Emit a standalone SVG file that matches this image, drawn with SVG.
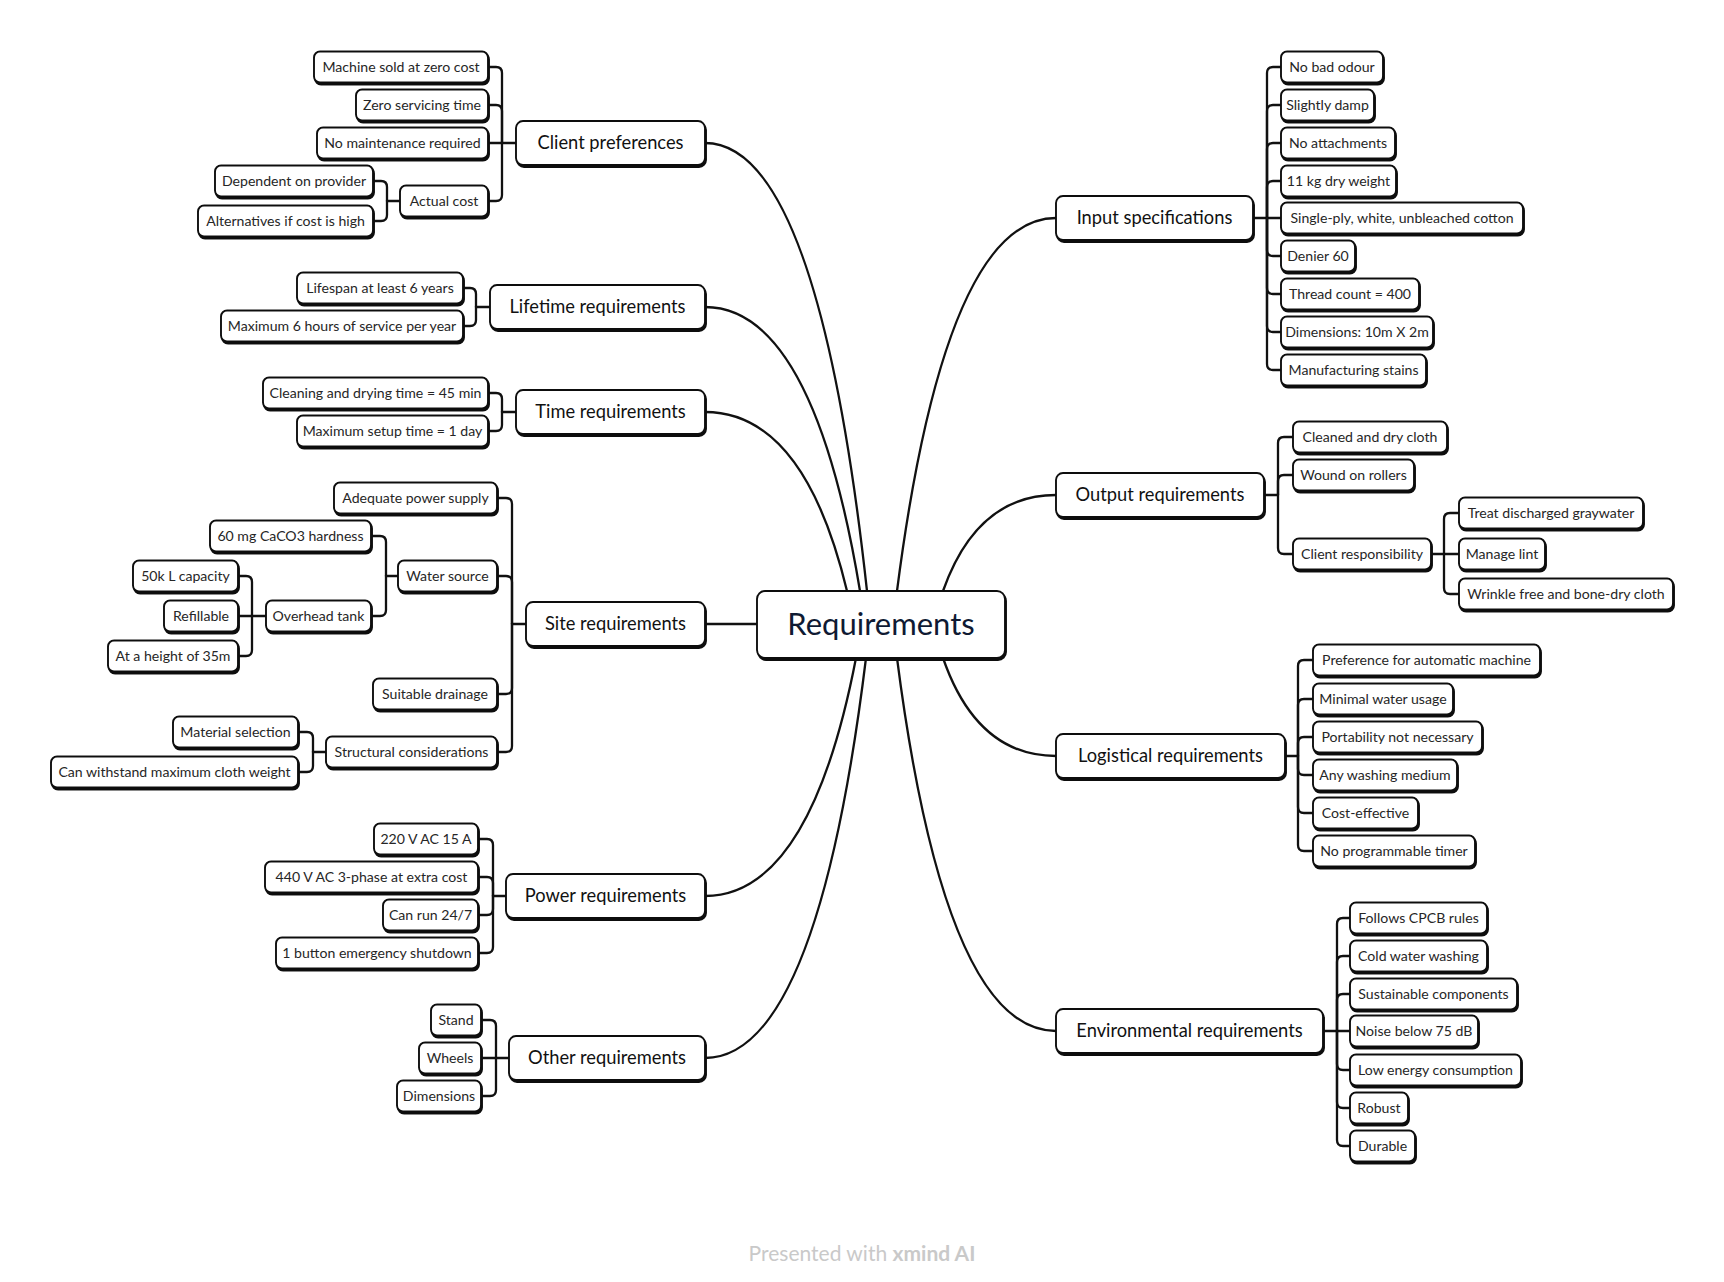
<svg xmlns="http://www.w3.org/2000/svg" width="1724" height="1282" viewBox="0 0 1724 1282">
  <defs>
    <!-- offset ink underneath each box gives the heavier bottom/right edge -->
    <filter id="ink" x="-5%" y="-10%" width="112%" height="130%">
      <feOffset in="SourceAlpha" dx="0.9" dy="1.8" result="off"/>
      <feFlood flood-color="#111111"/>
      <feComposite in2="off" operator="in"/>
      <feMerge><feMergeNode/><feMergeNode in="SourceGraphic"/></feMerge>
    </filter>
    <style>
      .box { fill: #ffffff; stroke: #111111; stroke-width: 1.9; filter: url(#ink); }
      .sub rect { rx: 6px; }
      .main rect { rx: 7px; }
      text { font-family: Lato, "Noto Sans", "Liberation Sans", sans-serif; text-anchor: middle; }
      .sub text { font-size: 14.1px; fill: #262626; }
      .main text { font-size: 18.3px; fill: #111111; }
      .root text { font-size: 31px; fill: #0f1a33; }
      .links path { fill: none; stroke: #111111; stroke-width: 2.3; stroke-linecap: round; stroke-linejoin: round; }
      .footer { font-size: 21px; fill: #c9c9c9; }
    </style>
  </defs>
  <rect width="1724" height="1282" fill="#ffffff"/>

  <!-- connectors -->
  <g id="connectors" class="links">
    <!-- root to main topics -->
    <path d="M705 143Q818 143 867 591"/>
    <path d="M705 307Q813 307 860 591"/>
    <path d="M705 412Q804 412 847 591"/>
    <path d="M705 624H757"/>
    <path d="M705 896Q810 896 856 658"/>
    <path d="M705 1058Q817 1058 866 658"/>
    <path d="M1056 218Q945 218 897 591"/>
    <path d="M1056 495Q977 495 943 591"/>
    <path d="M1056 756Q977 756 943 658"/>
    <path d="M1056 1031Q945 1031 897 658"/>

    <!-- client preferences -->
    <path d="M516 143H488"/>
    <path d="M502 143V73Q502 67 496 67H488"/>
    <path d="M502 143V111Q502 105 496 105H488"/>
    <path d="M502 143V195Q502 201 496 201H488"/>
    <path d="M400 201H387"/>
    <path d="M387 201V187Q387 181 381 181H373"/>
    <path d="M387 201V215Q387 221 381 221H373"/>

    <!-- lifetime -->
    <path d="M490 307H476"/>
    <path d="M476 307V294Q476 288 470 288H463"/>
    <path d="M476 307V320Q476 326 470 326H463"/>

    <!-- time -->
    <path d="M516 412H502"/>
    <path d="M502 412V399Q502 393 496 393H488"/>
    <path d="M502 412V425Q502 431 496 431H488"/>

    <!-- site -->
    <path d="M526 624H512"/>
    <path d="M512 624V504Q512 498 506 498H497"/>
    <path d="M512 624V582Q512 576 506 576H497"/>
    <path d="M512 624V688Q512 694 506 694H497"/>
    <path d="M512 624V746Q512 752 506 752H497"/>
    <path d="M398 576H386"/>
    <path d="M386 576V542Q386 536 380 536H371"/>
    <path d="M386 576V610Q386 616 380 616H371"/>
    <path d="M266 616H238"/>
    <path d="M252 616V582Q252 576 246 576H238"/>
    <path d="M252 616V650Q252 656 246 656H238"/>
    <path d="M326 752H313"/>
    <path d="M313 752V738Q313 732 307 732H298"/>
    <path d="M313 752V766Q313 772 307 772H298"/>

    <!-- power -->
    <path d="M506 896H493"/>
    <path d="M493 896V845Q493 839 487 839H478"/>
    <path d="M493 896V883Q493 877 487 877H478"/>
    <path d="M493 896V909Q493 915 487 915H478"/>
    <path d="M493 896V947Q493 953 487 953H478"/>

    <!-- other -->
    <path d="M509 1058H481"/>
    <path d="M496 1058V1026Q496 1020 490 1020H481"/>
    <path d="M496 1058V1090Q496 1096 490 1096H481"/>

    <!-- input specifications -->
    <path d="M1253 218H1281"/>
    <path d="M1267 218V73Q1267 67 1273 67H1281"/>
    <path d="M1267 218V111Q1267 105 1273 105H1281"/>
    <path d="M1267 218V149Q1267 143 1273 143H1281"/>
    <path d="M1267 218V187Q1267 181 1273 181H1281"/>
    <path d="M1267 218V250Q1267 256 1273 256H1281"/>
    <path d="M1267 218V288Q1267 294 1273 294H1281"/>
    <path d="M1267 218V326Q1267 332 1273 332H1281"/>
    <path d="M1267 218V364Q1267 370 1273 370H1281"/>

    <!-- output -->
    <path d="M1264 495H1278"/>
    <path d="M1278 495V443Q1278 437 1284 437H1293"/>
    <path d="M1278 495V481Q1278 475 1284 475H1293"/>
    <path d="M1278 495V548Q1278 554 1284 554H1293"/>
    <path d="M1431 554H1459"/>
    <path d="M1444 554V519Q1444 513 1450 513H1459"/>
    <path d="M1444 554V588Q1444 594 1450 594H1459"/>

    <!-- logistical -->
    <path d="M1285 756H1298"/>
    <path d="M1298 756V666Q1298 660 1304 660H1313"/>
    <path d="M1298 756V705Q1298 699 1304 699H1313"/>
    <path d="M1298 756V743Q1298 737 1304 737H1313"/>
    <path d="M1298 756V769Q1298 775 1304 775H1313"/>
    <path d="M1298 756V807Q1298 813 1304 813H1313"/>
    <path d="M1298 756V845Q1298 851 1304 851H1313"/>

    <!-- environmental -->
    <path d="M1323 1031H1350"/>
    <path d="M1337 1031V924Q1337 918 1343 918H1350"/>
    <path d="M1337 1031V962Q1337 956 1343 956H1350"/>
    <path d="M1337 1031V1000Q1337 994 1343 994H1350"/>
    <path d="M1337 1031V1064Q1337 1070 1343 1070H1350"/>
    <path d="M1337 1031V1102Q1337 1108 1343 1108H1350"/>
    <path d="M1337 1031V1140Q1337 1146 1343 1146H1350"/>
  </g>

  <!-- root -->
  <g id="n-root" class="root"><rect class="box" x="757" y="591" width="248" height="67" rx="8"/><text x="881" y="635">Requirements</text></g>

  <!-- main topics -->
  <g id="n-client" class="main"><rect class="box" x="516" y="121" width="189" height="44"/><text x="610.5" y="149">Client preferences</text></g>
  <g id="n-lifetime" class="main"><rect class="box" x="490" y="285" width="215" height="44"/><text x="597.5" y="313">Lifetime requirements</text></g>
  <g id="n-time" class="main"><rect class="box" x="516" y="390" width="189" height="44"/><text x="610.5" y="418">Time requirements</text></g>
  <g id="n-site" class="main"><rect class="box" x="526" y="602" width="179" height="44"/><text x="615.5" y="630">Site requirements</text></g>
  <g id="n-power" class="main"><rect class="box" x="506" y="874" width="199" height="44"/><text x="605.5" y="902">Power requirements</text></g>
  <g id="n-other" class="main"><rect class="box" x="509" y="1036" width="196" height="44"/><text x="607" y="1064">Other requirements</text></g>
  <g id="n-input" class="main"><rect class="box" x="1056" y="196" width="197" height="44"/><text x="1154.5" y="224">Input specifications</text></g>
  <g id="n-output" class="main"><rect class="box" x="1056" y="473" width="208" height="44"/><text x="1160" y="501">Output requirements</text></g>
  <g id="n-logistical" class="main"><rect class="box" x="1056" y="734" width="229" height="44"/><text x="1170.5" y="762">Logistical requirements</text></g>
  <g id="n-environmental" class="main"><rect class="box" x="1056" y="1009" width="267" height="44"/><text x="1189.5" y="1037">Environmental requirements</text></g>

  <!-- client preferences items -->
  <g id="n-zero-cost" class="sub"><rect class="box" x="314" y="51.5" width="174" height="31"/><text x="401" y="72">Machine sold at zero cost</text></g>
  <g id="n-zero-servicing" class="sub"><rect class="box" x="356" y="89.5" width="132" height="31"/><text x="422" y="110">Zero servicing time</text></g>
  <g id="n-no-maintenance" class="sub"><rect class="box" x="317" y="127.5" width="171" height="31"/><text x="402.5" y="148">No maintenance required</text></g>
  <g id="n-actual-cost" class="sub"><rect class="box" x="400" y="185.5" width="88" height="31"/><text x="444" y="206">Actual cost</text></g>
  <g id="n-dependent" class="sub"><rect class="box" x="215" y="165.5" width="158" height="31"/><text x="294" y="186">Dependent on provider</text></g>
  <g id="n-alternatives" class="sub"><rect class="box" x="198" y="205.5" width="175" height="31"/><text x="285.5" y="226">Alternatives if cost is high</text></g>

  <!-- lifetime items -->
  <g id="n-lifespan" class="sub"><rect class="box" x="297" y="272.5" width="166" height="31"/><text x="380" y="293">Lifespan at least 6 years</text></g>
  <g id="n-service-hours" class="sub"><rect class="box" x="221" y="310.5" width="242" height="31"/><text x="342" y="331">Maximum 6 hours of service per year</text></g>

  <!-- time items -->
  <g id="n-cycle-time" class="sub"><rect class="box" x="263" y="377.5" width="225" height="31"/><text x="375.5" y="398">Cleaning and drying time = 45 min</text></g>
  <g id="n-setup-time" class="sub"><rect class="box" x="297" y="415.5" width="191" height="31"/><text x="392.5" y="436">Maximum setup time = 1 day</text></g>

  <!-- site items -->
  <g id="n-power-supply" class="sub"><rect class="box" x="334" y="482.5" width="163" height="31"/><text x="415.5" y="503">Adequate power supply</text></g>
  <g id="n-water-source" class="sub"><rect class="box" x="398" y="560.5" width="99" height="31"/><text x="447.5" y="581">Water source</text></g>
  <g id="n-hardness" class="sub"><rect class="box" x="210" y="520.5" width="161" height="31"/><text x="290.5" y="541">60 mg CaCO3 hardness</text></g>
  <g id="n-overhead-tank" class="sub"><rect class="box" x="266" y="600.5" width="105" height="31"/><text x="318.5" y="621">Overhead tank</text></g>
  <g id="n-capacity" class="sub"><rect class="box" x="133" y="560.5" width="105" height="31"/><text x="185.5" y="581">50k L capacity</text></g>
  <g id="n-refillable" class="sub"><rect class="box" x="164" y="600.5" width="74" height="31"/><text x="201" y="621">Refillable</text></g>
  <g id="n-height" class="sub"><rect class="box" x="108" y="640.5" width="130" height="31"/><text x="173" y="661">At a height of 35m</text></g>
  <g id="n-drainage" class="sub"><rect class="box" x="373" y="678.5" width="124" height="31"/><text x="435" y="699">Suitable drainage</text></g>
  <g id="n-structural" class="sub"><rect class="box" x="326" y="736.5" width="171" height="31"/><text x="411.5" y="757">Structural considerations</text></g>
  <g id="n-material" class="sub"><rect class="box" x="173" y="716.5" width="125" height="31"/><text x="235.5" y="737">Material selection</text></g>
  <g id="n-withstand" class="sub"><rect class="box" x="51" y="756.5" width="247" height="31"/><text x="174.5" y="777">Can withstand maximum cloth weight</text></g>

  <!-- power items -->
  <g id="n-220v" class="sub"><rect class="box" x="374" y="823.5" width="104" height="31"/><text x="426" y="844">220 V AC 15 A</text></g>
  <g id="n-440v" class="sub"><rect class="box" x="265" y="861.5" width="213" height="31"/><text x="371.5" y="882">440 V AC 3-phase at extra cost</text></g>
  <g id="n-run-247" class="sub"><rect class="box" x="383" y="899.5" width="95" height="31"/><text x="430.5" y="920">Can run 24/7</text></g>
  <g id="n-shutdown" class="sub"><rect class="box" x="276" y="937.5" width="202" height="31"/><text x="377" y="958">1 button emergency shutdown</text></g>

  <!-- other items -->
  <g id="n-stand" class="sub"><rect class="box" x="431" y="1004.5" width="50" height="31"/><text x="456" y="1025">Stand</text></g>
  <g id="n-wheels" class="sub"><rect class="box" x="419" y="1042.5" width="62" height="31"/><text x="450" y="1063">Wheels</text></g>
  <g id="n-dimensions" class="sub"><rect class="box" x="397" y="1080.5" width="84" height="31"/><text x="439" y="1101">Dimensions</text></g>

  <!-- input specification items -->
  <g id="n-odour" class="sub"><rect class="box" x="1281" y="51.5" width="102" height="31"/><text x="1332" y="72">No bad odour</text></g>
  <g id="n-damp" class="sub"><rect class="box" x="1281" y="89.5" width="93" height="31"/><text x="1327.5" y="110">Slightly damp</text></g>
  <g id="n-attachments" class="sub"><rect class="box" x="1281" y="127.5" width="114" height="31"/><text x="1338" y="148">No attachments</text></g>
  <g id="n-dry-weight" class="sub"><rect class="box" x="1281" y="165.5" width="115" height="31"/><text x="1338.5" y="186">11 kg dry weight</text></g>
  <g id="n-cotton" class="sub"><rect class="box" x="1281" y="202.5" width="242" height="31"/><text x="1402" y="223">Single-ply, white, unbleached cotton</text></g>
  <g id="n-denier" class="sub"><rect class="box" x="1281" y="240.5" width="74" height="31"/><text x="1318" y="261">Denier 60</text></g>
  <g id="n-thread" class="sub"><rect class="box" x="1281" y="278.5" width="138" height="31"/><text x="1350" y="299">Thread count = 400</text></g>
  <g id="n-cloth-dims" class="sub"><rect class="box" x="1281" y="316.5" width="152" height="31"/><text x="1357" y="337">Dimensions: 10m X 2m</text></g>
  <g id="n-stains" class="sub"><rect class="box" x="1281" y="354.5" width="145" height="31"/><text x="1353.5" y="375">Manufacturing stains</text></g>

  <!-- output items -->
  <g id="n-clean-dry" class="sub"><rect class="box" x="1293" y="421.5" width="154" height="31"/><text x="1370" y="442">Cleaned and dry cloth</text></g>
  <g id="n-rollers" class="sub"><rect class="box" x="1293" y="459.5" width="121" height="31"/><text x="1353.5" y="480">Wound on rollers</text></g>
  <g id="n-client-resp" class="sub"><rect class="box" x="1293" y="538.5" width="138" height="31"/><text x="1362" y="559">Client responsibility</text></g>
  <g id="n-graywater" class="sub"><rect class="box" x="1459" y="497.5" width="184" height="31"/><text x="1551" y="518">Treat discharged graywater</text></g>
  <g id="n-lint" class="sub"><rect class="box" x="1459" y="538.5" width="86" height="31"/><text x="1502" y="559">Manage lint</text></g>
  <g id="n-wrinkle" class="sub"><rect class="box" x="1459" y="578.5" width="214" height="31"/><text x="1566" y="599">Wrinkle free and bone-dry cloth</text></g>

  <!-- logistical items -->
  <g id="n-automatic" class="sub"><rect class="box" x="1313" y="644.5" width="227" height="31"/><text x="1426.5" y="665">Preference for automatic machine</text></g>
  <g id="n-water-usage" class="sub"><rect class="box" x="1313" y="683.5" width="140" height="31"/><text x="1383" y="704">Minimal water usage</text></g>
  <g id="n-portability" class="sub"><rect class="box" x="1313" y="721.5" width="169" height="31"/><text x="1397.5" y="742">Portability not necessary</text></g>
  <g id="n-medium" class="sub"><rect class="box" x="1313" y="759.5" width="144" height="31"/><text x="1385" y="780">Any washing medium</text></g>
  <g id="n-cost-effective" class="sub"><rect class="box" x="1313" y="797.5" width="105" height="31"/><text x="1365.5" y="818">Cost-effective</text></g>
  <g id="n-timer" class="sub"><rect class="box" x="1313" y="835.5" width="162" height="31"/><text x="1394" y="856">No programmable timer</text></g>

  <!-- environmental items -->
  <g id="n-cpcb" class="sub"><rect class="box" x="1350" y="902.5" width="137" height="31"/><text x="1418.5" y="923">Follows CPCB rules</text></g>
  <g id="n-cold-water" class="sub"><rect class="box" x="1350" y="940.5" width="137" height="31"/><text x="1418.5" y="961">Cold water washing</text></g>
  <g id="n-sustainable" class="sub"><rect class="box" x="1350" y="978.5" width="167" height="31"/><text x="1433.5" y="999">Sustainable components</text></g>
  <g id="n-noise" class="sub"><rect class="box" x="1350" y="1015.5" width="128" height="31"/><text x="1414" y="1036">Noise below 75 dB</text></g>
  <g id="n-energy" class="sub"><rect class="box" x="1350" y="1054.5" width="171" height="31"/><text x="1435.5" y="1075">Low energy consumption</text></g>
  <g id="n-robust" class="sub"><rect class="box" x="1350" y="1092.5" width="58" height="31"/><text x="1379" y="1113">Robust</text></g>
  <g id="n-durable" class="sub"><rect class="box" x="1350" y="1130.5" width="65" height="31"/><text x="1382.5" y="1151">Durable</text></g>

  <!-- footer -->
  <text class="footer" x="862" y="1261">Presented with <tspan font-weight="700">xmind AI</tspan></text>
</svg>
